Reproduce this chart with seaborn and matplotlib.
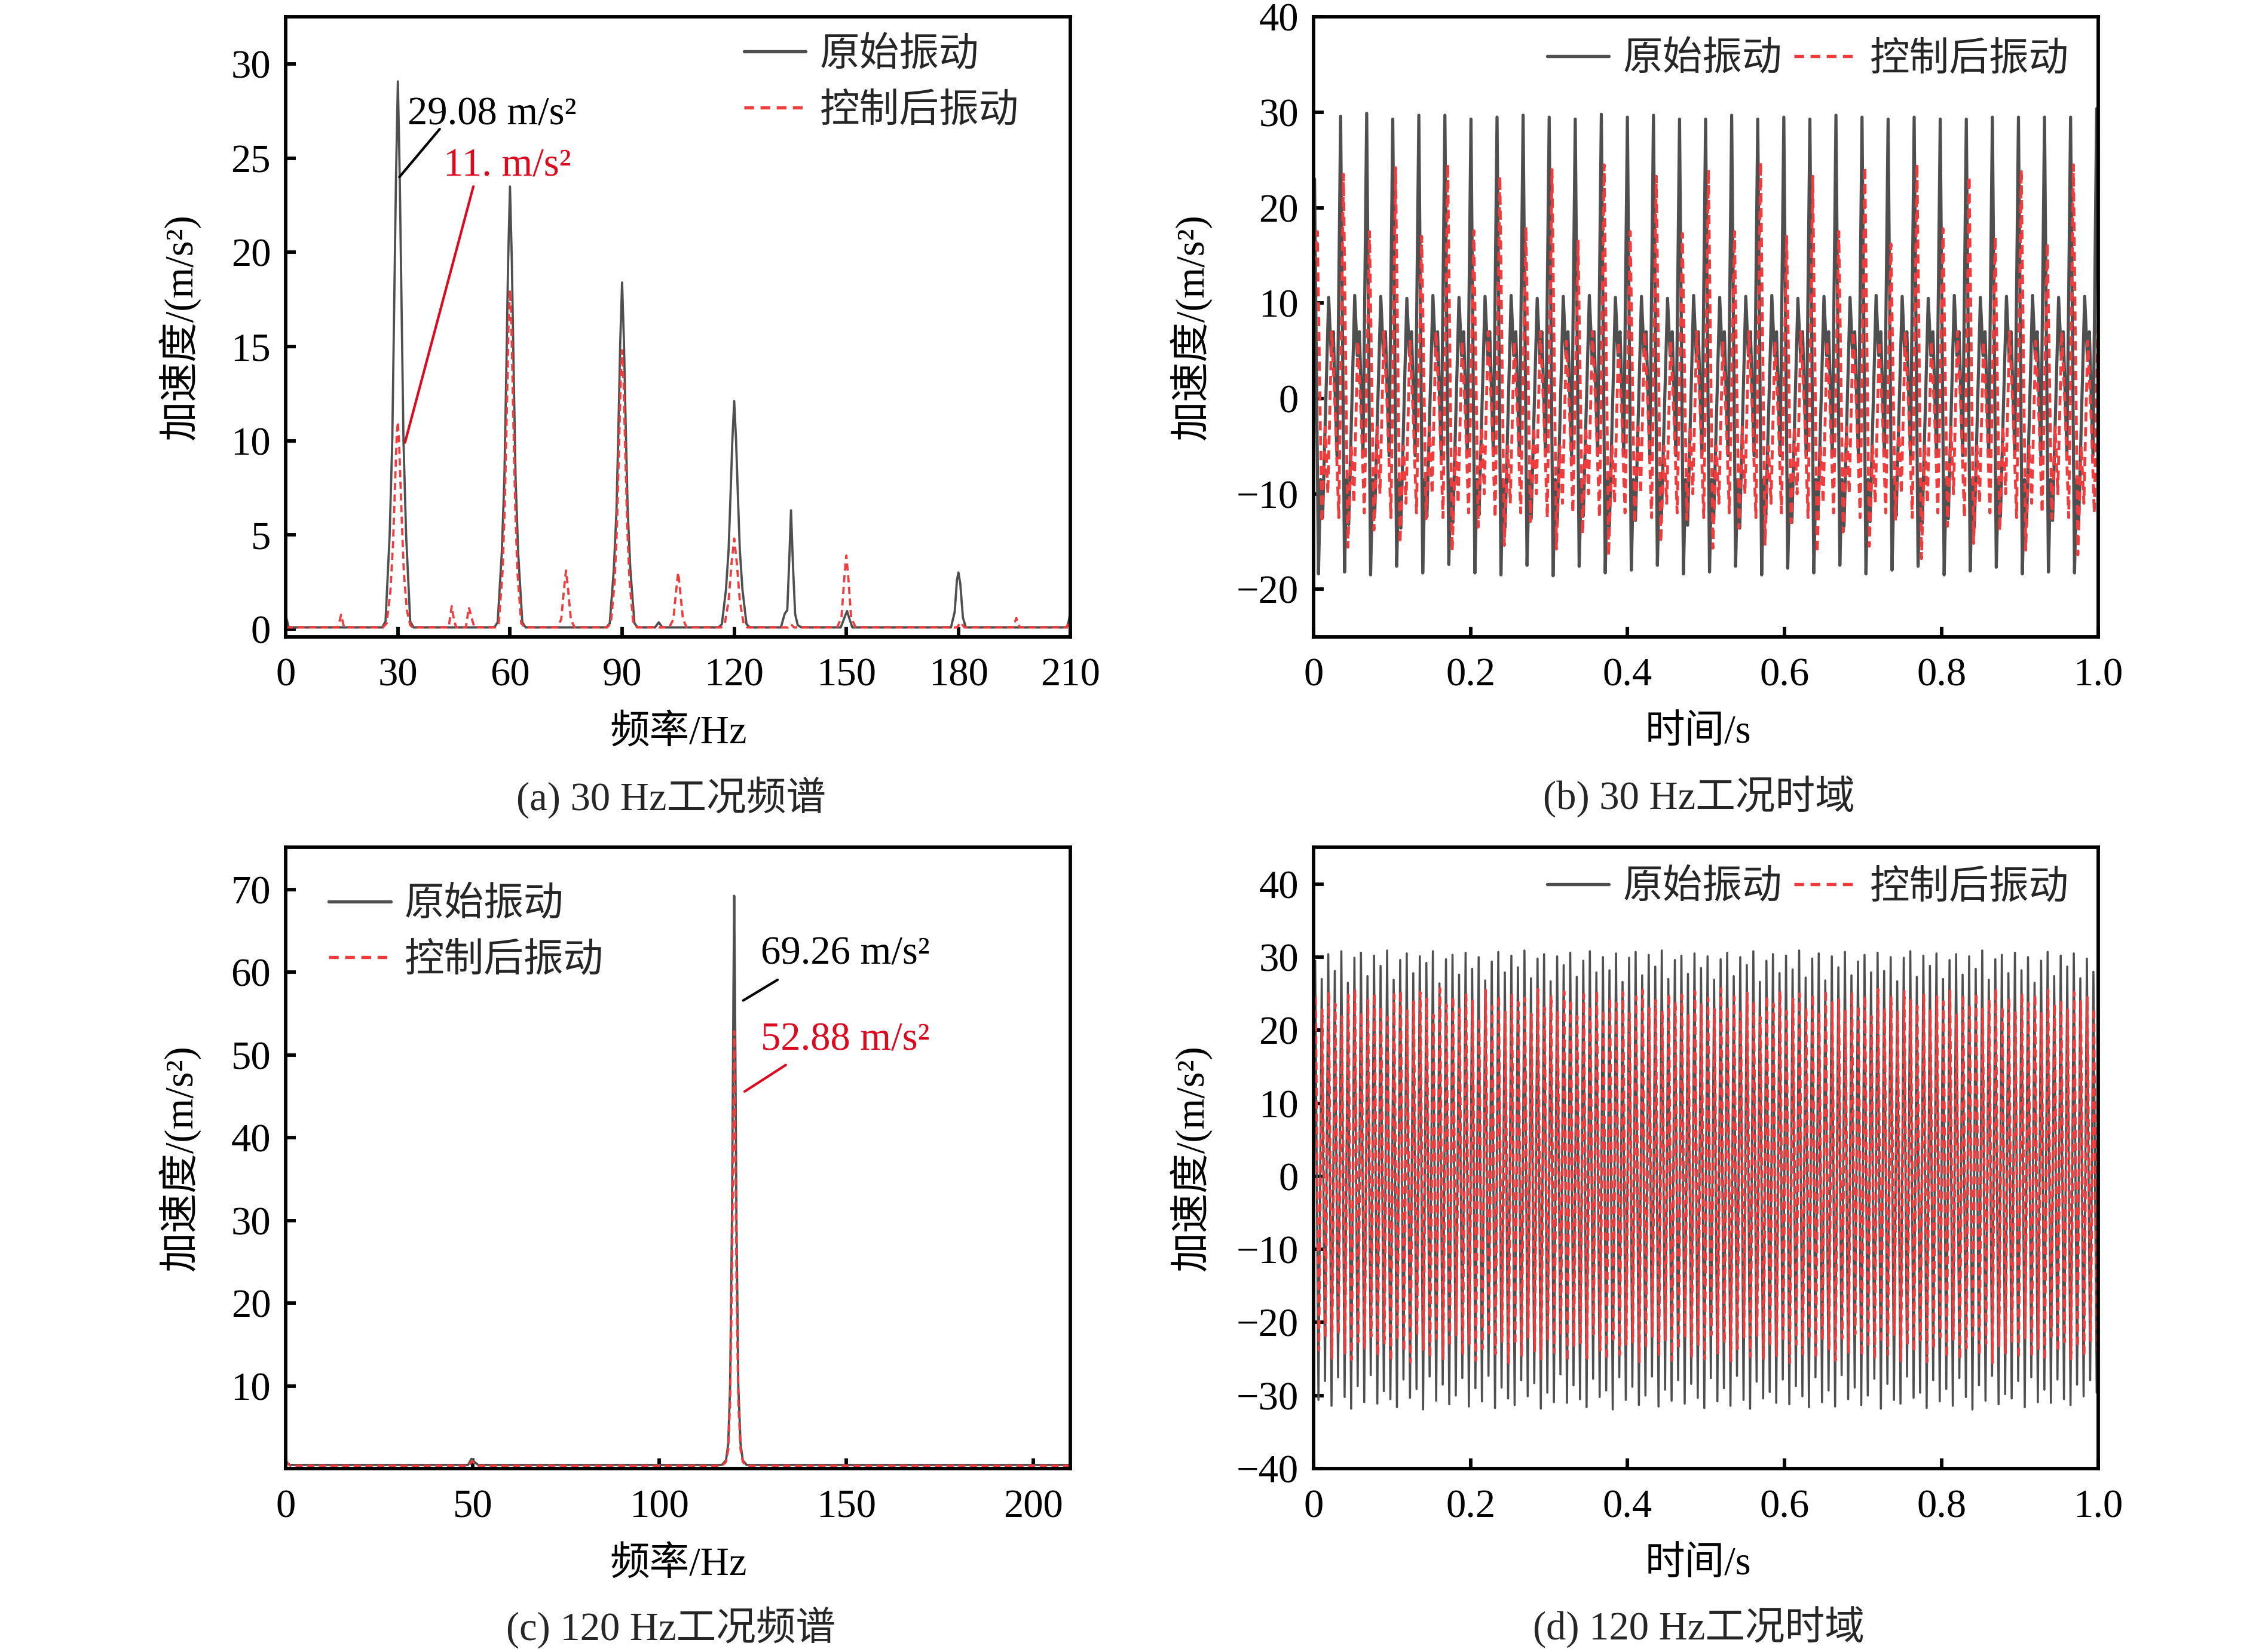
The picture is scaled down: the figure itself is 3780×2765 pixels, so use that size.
import matplotlib
matplotlib.use('Agg')
import matplotlib.pyplot as plt
import seaborn as sns
from matplotlib.lines import Line2D

sns.set_theme(style='white')
plt.rcParams['font.family'] = ['Liberation Serif', 'Noto Sans CJK SC', 'DejaVu Sans']
plt.rcParams['axes.unicode_minus'] = True

BLACK = '#4f4f4f'
RED = '#f03c3c'
ANN_RED = '#dc0a1e'
FS = 16

# ---------------- (a) 30 Hz spectrum ----------------
a_black_f = [0, 0.8, 25.8, 26.7, 27.8, 28.5, 29.0, 29.5, 30.0, 30.5, 31.0, 31.5, 32.2, 33.3, 34.2,
             55.8, 56.7, 57.8, 58.5, 59.0, 59.5, 60.0, 60.5, 61.0, 61.5, 62.2, 63.3, 64.2,
             85.8, 86.7, 87.8, 88.5, 89.0, 89.5, 90.0, 90.5, 91.0, 91.5, 92.2, 93.3, 94.2,
             98.8, 99.8, 100.8,
             115.8, 116.7, 117.8, 118.5, 119.0, 119.5, 120.0, 120.5, 121.0, 121.5, 122.2, 123.3, 124.2,
             132.5, 133.5, 134.2, 134.7, 135.2, 135.7, 136.3, 137.0, 138.0,
             148.5, 149.5, 150.2, 150.9, 151.6,
             178.0, 179.0, 179.6, 180.0, 180.5, 181.2, 182.0,
             209.0, 209.5, 210.0]
a_black_v = [0.7, 0.08, 0.08, 0.4, 5.0, 10.0, 17.0, 24.0, 29.08, 24.0, 17.0, 10.0, 5.0, 0.4, 0.08,
             0.08, 0.35, 4.0, 8.0, 13.5, 19.5, 23.5, 19.5, 13.5, 8.0, 4.0, 0.35, 0.08,
             0.08, 0.3, 3.2, 6.3, 10.5, 15.2, 18.4, 15.2, 10.5, 6.3, 3.2, 0.3, 0.08,
             0.08, 0.35, 0.08,
             0.08, 0.25, 2.1, 4.2, 7.0, 10.0, 12.1, 10.0, 7.0, 4.2, 2.1, 0.25, 0.08,
             0.08, 0.8, 1.0, 3.5, 6.3, 3.5, 0.8, 0.2, 0.08,
             0.08, 0.6, 0.95, 0.5, 0.08,
             0.08, 0.9, 2.6, 3.0, 2.4, 0.6, 0.08,
             0.08, 0.4, 1.0]
a_red_f = [0, 14.0, 14.8, 15.6,
           26.0, 27.0, 28.0, 28.7, 29.3, 29.7, 30.0, 30.4, 31.0, 31.6, 32.4, 33.3, 34.0,
           43.6, 44.4, 45.0, 45.6, 48.2, 49.0, 49.7, 50.5,
           56.0, 57.0, 58.0, 58.6, 59.2, 59.6, 60.0, 60.4, 60.8, 61.4, 62.0, 63.0, 64.0,
           72.6, 73.7, 74.5, 75.0, 75.5, 76.3, 77.3,
           86.0, 87.0, 88.0, 88.6, 89.2, 89.6, 90.0, 90.4, 90.8, 91.4, 92.0, 93.0, 94.0,
           102.6, 103.7, 104.5, 105.0, 105.5, 106.3, 107.3,
           116.5, 117.5, 118.5, 119.3, 120.0, 120.7, 121.5, 122.5, 123.5,
           134.4, 135.2, 136.0,
           147.5, 148.7, 149.5, 150.0, 150.5, 151.3, 152.5,
           179.6, 180.6, 181.6,
           194.6, 195.5, 196.4,
           209.0, 209.6, 210.0]
a_red_v = [0.08, 0.08, 0.75, 0.08,
           0.08, 0.3, 2.0, 4.5, 8.0, 10.3, 11.0, 9.5, 6.0, 3.0, 1.0, 0.2, 0.08,
           0.08, 1.2, 0.5, 0.08, 0.08, 1.15, 0.6, 0.08,
           0.08, 0.3, 3.0, 6.5, 12.0, 16.0, 18.0, 16.0, 12.0, 6.5, 3.0, 0.3, 0.08,
           0.08, 0.5, 2.2, 3.1, 2.2, 0.5, 0.08,
           0.08, 0.3, 2.5, 5.3, 9.8, 13.0, 14.8, 13.0, 9.8, 5.3, 2.5, 0.3, 0.08,
           0.08, 0.5, 2.1, 3.0, 2.1, 0.5, 0.08,
           0.08, 0.3, 1.5, 3.5, 4.8, 3.5, 1.5, 0.3, 0.08,
           0.08, 0.25, 0.08,
           0.08, 0.6, 2.8, 3.9, 2.8, 0.6, 0.08,
           0.08, 0.35, 0.08,
           0.08, 0.58, 0.08,
           0.08, 0.4, 0.85]

# ---------------- (c) 120 Hz spectrum ----------------
c_black_f = [0, 1.0, 48.8, 49.7, 50.5, 51.5, 116.7, 117.8, 118.4, 118.9, 119.4, 119.8, 120.0,
             120.2, 120.6, 121.1, 121.7, 122.3, 123.3, 210]
c_black_v = [0.9, 0.45, 0.45, 1.2, 0.8, 0.45, 0.45, 1.0, 3.0, 10.0, 30.0, 58.0, 69.26,
             58.0, 30.0, 10.0, 3.0, 1.0, 0.45, 0.45]
c_red_f = [0, 1.2, 49.0, 49.8, 50.6, 51.6, 116.7, 117.8, 118.4, 118.9, 119.4, 119.8, 120.0,
           120.2, 120.6, 121.1, 121.7, 122.3, 123.3, 210]
c_red_v = [0.9, 0.35, 0.35, 0.9, 0.6, 0.35, 0.35, 0.8, 2.3, 8.0, 23.0, 44.0, 52.88,
           44.0, 23.0, 8.0, 2.3, 0.8, 0.35, 0.35]

# ---------------- (b) 30 Hz time domain ----------------
b_T = 0.03322          # period (s)
b_t0 = 0.0012          # time of first (partial) black main peak
b_black_phase = [0.0, 0.15, 0.23, 0.31, 0.54, 0.64, 0.72, 0.86]
b_black_mid = [-8.5, 4.5, 7.0, -6.0]
b_black_peak = [23.0, 29.6, 29.9, 29.3, 29.7, 29.7, 29.3, 29.5, 29.7, 29.5, 29.3, 29.8, 29.5, 29.7,
                29.3, 29.3, 29.7, 29.3, 29.5, 29.3, 29.7, 29.5, 29.3, 29.5, 29.3, 29.3, 29.5, 29.5,
                29.5, 29.5, 30.4]
b_black_trough = [-18.4, -18.2, -18.5, -17.6, -18.3, -17.4, -18.3, -18.5, -17.5, -18.6, -17.6, -18.3,
                  -18.0, -17.5, -18.4, -18.2, -17.6, -18.5, -17.8, -18.3, -17.5, -18.4, -18.0, -17.6,
                  -18.5, -18.1, -17.7, -18.4, -18.2, -18.3, -18.0]
b_black_low2 = [-12.5, -13.2, -12.0, -13.6, -12.4, -13.0, -12.2, -13.5, -12.6, -13.1, -12.3, -13.4,
                -12.8, -12.1, -13.3, -12.7, -13.6, -12.2, -13.0, -12.5, -13.4, -12.9, -12.3, -13.1,
                -12.6, -13.5, -12.4, -13.2, -12.8, -13.0, -12.5]
b_black_second = [10.6, 10.8, 10.7, 10.5, 10.8, 10.6, 10.7, 10.8, 10.5, 10.7, 10.8, 10.6, 10.7, 10.5,
                  10.8, 10.6, 10.7, 10.8, 10.5, 10.7, 10.6, 10.8, 10.7, 10.5, 10.8, 10.6, 10.7, 10.8,
                  10.6, 10.7, 10.6]

b_red_start = 14.0
b_red_t0 = 0.0048
b_red_phase = [0.0, 0.17, 0.30, 0.40, 0.55, 0.68, 0.82, 1.00, 1.17, 1.30, 1.40, 1.55, 1.68, 1.80]
b_red_mid_short = [-3.0, -10.0, 7.0, -1.0, -12.5]
b_red_mid_tall = [-5.0, -11.0, 6.0, -2.0, -12.0]
b_red_short = [17.5, 17.5, 17.0, 17.6, 18.0, 16.5, 17.5, 17.3, 17.5, 17.0, 17.5, 16.2, 17.8, 17.0, 16.3, 17.0]
b_red_short_trough = [-13.0, -13.8, -12.6, -13.5, -12.9, -14.2, -13.1, -12.7, -13.6, -13.0, -14.0,
                      -12.8, -13.4, -13.9, -12.6, -13.2]
b_red_tall = [23.5, 24.2, 24.6, 23.3, 24.0, 24.5, 23.3, 24.0, 24.8, 23.3, 24.3, 24.6, 23.3, 24.0, 24.5, 24.0]
b_red_tall_trough = [-15.6, -15.2, -16.0, -15.4, -15.8, -16.5, -15.1, -15.7, -15.3, -16.2, -15.5,
                     -16.8, -15.2, -15.9, -16.4, -15.5]

# ---------------- (d) 120 Hz time domain ----------------
d_freq = 120.0
d_t0 = 0.002
d_black_peak = [
    29.5, 27.0, 30.4, 28.1, 30.8, 26.5, 29.9, 30.6, 27.4, 30.2, 28.8, 30.9,
    26.9, 29.6, 30.5, 27.8, 30.1, 29.2, 30.8, 26.4, 29.7, 30.3, 27.6, 30.6,
    28.4, 30.0, 26.8, 29.4, 30.7, 27.9, 30.2, 28.6, 30.9, 27.1, 29.8, 30.4,
    26.7, 30.1, 28.9, 30.6, 27.3, 29.5, 30.8, 27.9, 30.0, 28.2, 30.5, 26.6,
    29.9, 30.7, 27.5, 30.3, 28.7, 30.9, 27.0, 29.6, 30.2, 27.7, 30.5, 28.5,
    30.1, 26.9, 29.7, 30.6, 27.4, 30.0, 28.9, 30.8, 26.6, 29.5, 30.4, 27.8,
    30.2, 28.3, 30.9, 27.2, 29.8, 30.5, 26.8, 30.1, 28.6, 30.7, 27.5, 29.4,
    30.3, 27.9, 30.6, 28.1, 30.0, 26.7, 29.9, 30.8, 27.3, 30.2, 28.8, 30.5,
    27.0, 29.6, 30.4, 27.6, 30.1, 28.4, 30.9, 26.9, 29.7, 30.3, 27.8, 30.6,
    28.2, 30.0, 26.5, 29.5, 30.7, 27.4, 30.2, 28.7, 30.5, 27.1, 29.8, 28.0]
d_black_trough = [
    -30.6, -28.0, -31.4, -27.5, -30.2, -31.8, -28.7, -30.9, -27.2, -31.1, -29.4, -30.5,
    -31.6, -27.8, -30.3, -29.1, -31.9, -27.4, -30.7, -28.5, -31.2, -30.0, -27.6, -31.5,
    -29.0, -30.8, -27.3, -31.7, -28.9, -30.4, -31.3, -27.9, -30.1, -28.3, -31.8, -29.6,
    -30.9, -27.1, -31.0, -28.6, -30.5, -31.6, -27.7, -30.2, -29.3, -31.9, -27.5, -30.6,
    -28.8, -31.3, -30.0, -27.4, -31.5, -29.2, -30.7, -27.9, -31.1, -28.4, -30.3, -31.7,
    -27.6, -30.8, -29.0, -31.4, -27.3, -30.6, -31.8, -28.1, -30.4, -29.5, -31.0, -27.8,
    -31.2, -28.7, -30.1, -31.6, -27.5, -30.9, -29.3, -31.5, -27.2, -30.5, -28.9, -31.3,
    -30.0, -27.7, -31.8, -28.4, -30.6, -31.1, -27.4, -30.3, -29.6, -31.7, -27.9, -30.8,
    -29.1, -31.4, -27.6, -30.2, -31.9, -28.6, -30.7, -27.3, -31.2, -29.8, -30.4, -28.0,
    -31.6, -27.5, -30.9, -29.2, -31.0, -27.8, -30.5, -31.3, -28.5, -30.1, -27.9, -29.6]
d_red_peak = [
    24.5, 22.8, 25.3, 23.6, 21.9, 24.8, 25.6, 22.4, 24.1, 25.0, 23.2, 21.8,
    24.9, 25.4, 22.7, 23.9, 25.2, 24.3, 22.1, 25.7, 23.5, 24.6, 22.9, 25.1,
    24.0, 21.7, 25.5, 23.3, 24.7, 22.5, 25.0, 23.8, 24.4, 22.2, 25.6, 23.1,
    24.8, 22.6, 25.3, 24.2, 21.9, 24.9, 23.4, 25.4, 22.8, 24.5, 23.7, 25.2,
    22.3, 24.6, 25.5, 23.0, 24.1, 22.7, 25.0, 23.9, 24.8, 22.0, 25.3, 23.5,
    24.4, 22.9, 25.7, 23.2, 24.6, 22.4, 25.1, 24.0, 21.8, 24.7, 23.6, 25.4,
    22.6, 24.3, 25.0, 23.1, 24.9, 22.2, 25.5, 23.8, 24.2, 22.8, 25.2, 23.4,
    24.7, 21.9, 25.6, 23.0, 24.5, 22.5, 25.3, 24.1, 23.3, 25.0, 22.7, 24.6,
    23.9, 25.4, 22.1, 24.8, 23.5, 25.1, 22.9, 24.2, 25.7, 23.2, 24.4, 22.6,
    25.0, 23.7, 24.9, 22.3, 25.5, 23.6, 24.1, 22.8, 25.2, 23.9, 24.5, 23.0]
d_red_trough = [
    -23.8, -22.1, -24.9, -21.6, -24.2, -25.1, -22.7, -23.5, -21.9, -24.6, -23.0, -25.3,
    -22.4, -24.0, -25.4, -21.8, -23.7, -24.8, -22.2, -25.0, -23.3, -21.7, -24.5, -22.9,
    -25.2, -23.6, -21.9, -24.3, -22.6, -25.5, -23.1, -24.7, -22.0, -23.9, -25.0, -22.5,
    -24.1, -21.8, -25.3, -23.4, -22.8, -24.9, -21.6, -23.8, -25.1, -22.3, -24.4, -23.0,
    -22.7, -25.4, -23.5, -21.9, -24.6, -22.4, -25.2, -23.7, -22.1, -24.8, -23.2, -25.0,
    -21.7, -24.2, -22.9, -25.3, -23.6, -22.0, -24.7, -21.8, -25.1, -23.3, -24.5, -22.6,
    -25.5, -23.0, -24.3, -21.9, -24.9, -22.5, -23.8, -25.2, -22.2, -24.1, -21.6, -24.6,
    -23.4, -25.0, -22.8, -24.4, -21.7, -25.3, -23.1, -24.0, -22.4, -25.4, -23.7, -22.0,
    -24.8, -22.3, -25.1, -23.5, -21.8, -24.5, -22.9, -25.5, -23.2, -24.2, -22.6, -24.9,
    -22.1, -24.7, -23.6, -25.2, -21.9, -24.0, -22.7, -25.0, -23.4, -24.6, -22.5, -23.8]

legend_labels = ['原始振动', '控制后振动']
caption_texts = ['(a) 30 Hz工况频谱', '(b) 30 Hz工况时域', '(c) 120 Hz工况频谱', '(d) 120 Hz工况时域']


# ---------------- assemble time series ----------------
def build_b_black():
    t, y = [], []
    for i in range(len(b_black_peak)):
        tp = b_t0 + i * b_T
        vals = [b_black_peak[i], b_black_trough[i], b_black_mid[0], b_black_low2[i],
                b_black_second[i], b_black_mid[1], b_black_mid[2], b_black_mid[3]]
        for ph, v in zip(b_black_phase, vals):
            t.append(tp + ph * b_T)
            y.append(v)
    return t, y


def build_b_red():
    t, y = [0.0], [b_red_start]
    for k in range(len(b_red_short)):
        ts = b_red_t0 + 2 * k * b_T
        vals = ([b_red_short[k], b_red_short_trough[k]] + b_red_mid_short +
                [b_red_tall[k], b_red_tall_trough[k]] + b_red_mid_tall)
        for ph, v in zip(b_red_phase, vals):
            t.append(ts + ph * b_T)
            y.append(v)
    return t, y


def build_d(peaks, troughs, shift):
    t, y = [], []
    for i, (p, q) in enumerate(zip(peaks, troughs)):
        t.append(d_t0 + shift + i / d_freq)
        y.append(p)
        t.append(d_t0 + shift + (i + 0.5) / d_freq)
        y.append(q)
    return t, y


RED_DASH = (3.2, 2.0)


def draw_pair(ax, xb, yb, xr, yr, lwb, lwr):
    sns.lineplot(x=xb, y=yb, ax=ax, color=BLACK, linewidth=lwb, estimator=None, sort=False)
    sns.lineplot(x=xr, y=yr, ax=ax, color=RED, linewidth=lwr, estimator=None, sort=False)
    ax.lines[-1].set_dashes(RED_DASH)


def style_axes(ax):
    for sp in ax.spines.values():
        sp.set_visible(True)
        sp.set_color('black')
        sp.set_linewidth(1.4)
    ax.tick_params(axis='both', which='both', direction='in', length=4, width=1.4,
                   labelsize=FS, colors='black', top=False, right=False,
                   bottom=True, left=True)
    ax.tick_params(axis='x', pad=8.2)
    ax.tick_params(axis='y', pad=6)
    ax.grid(False)


def add_legend(ax, anchor, ncol):
    handles = [Line2D([], [], color=BLACK, lw=1.3),
               Line2D([], [], color=RED, lw=1.3, dashes=(3.0, 2.0))]
    ax.legend(handles, legend_labels, loc='upper left', bbox_to_anchor=anchor,
              frameon=False, borderpad=0, borderaxespad=0, handlelength=1.55,
              handletextpad=0.35, labelspacing=0.47, columnspacing=0.3,
              ncol=ncol, fontsize=FS)


fig = plt.figure(figsize=(12.6, 2765 / 300), dpi=300)
L1, L2, W = 0.1265, 0.5815, 0.3474
axA = fig.add_axes([L1, 0.6145, W, 0.3752])
axB = fig.add_axes([L2, 0.6145, W, 0.3752])
axC = fig.add_axes([L1, 0.1110, W, 0.3760])
axD = fig.add_axes([L2, 0.1110, W, 0.3760])

# (a)
draw_pair(axA, a_black_f, a_black_v, a_red_f, a_red_v, 0.9, 0.9)
axA.set_xlim(0, 210)
axA.set_ylim(-0.42, 32.5)
axA.set_xticks([0, 30, 60, 90, 120, 150, 180, 210])
axA.set_yticks([0, 5, 10, 15, 20, 25, 30])
axA.text(32.6, 26.8, '29.08 m/s²', fontsize=FS, color='black', ha='left', va='baseline')
axA.plot([30.4, 41.2], [24.0, 26.55], color='black', lw=1.0)
axA.text(42.2, 24.1, '11. m/s²', fontsize=FS, color=ANN_RED, ha='left', va='baseline')
axA.plot([31.9, 50.2], [9.9, 23.5], color=ANN_RED, lw=1.0)
add_legend(axA, (0.584, 0.968), 1)

# (b)
tb, yb = build_b_black()
tr, yr = build_b_red()
draw_pair(axB, tb, yb, tr, yr, 1.25, 1.15)
axB.set_xlim(0, 1.0)
axB.set_ylim(-25, 40)
axB.set_xticks([0, 0.2, 0.4, 0.6, 0.8, 1.0])
axB.set_xticklabels(['0', '0.2', '0.4', '0.6', '0.8', '1.0'])
axB.set_yticks([-20, -10, 0, 10, 20, 30, 40])
add_legend(axB, (0.2976, 0.961), 2)

# (c)
draw_pair(axC, c_black_f, c_black_v, c_red_f, c_red_v, 0.9, 0.9)
axC.set_xlim(0, 210)
axC.set_ylim(0, 75.1)
axC.set_xticks([0, 50, 100, 150, 200])
axC.set_yticks([10, 20, 30, 40, 50, 60, 70])
axC.text(127.1, 61.0, '69.26 m/s²', fontsize=FS, color='black', ha='left', va='baseline')
axC.plot([122.4, 131.6], [56.6, 59.1], color='black', lw=1.0)
axC.text(127.1, 50.6, '52.88 m/s²', fontsize=FS, color=ANN_RED, ha='left', va='baseline')
axC.plot([122.8, 133.8], [45.6, 48.8], color=ANN_RED, lw=1.0)
add_legend(axC, (0.055, 0.937), 1)

# (d)
tdb, ydb = build_d(d_black_peak, d_black_trough, 0.0)
tdr, ydr = build_d(d_red_peak, d_red_trough, 0.0006)
draw_pair(axD, tdb, ydb, tdr, ydr, 0.85, 1.0)
axD.set_xlim(0, 1.0)
axD.set_ylim(-40, 45)
axD.set_xticks([0, 0.2, 0.4, 0.6, 0.8, 1.0])
axD.set_xticklabels(['0', '0.2', '0.4', '0.6', '0.8', '1.0'])
axD.set_yticks([-40, -30, -20, -10, 0, 10, 20, 30, 40])
add_legend(axD, (0.2976, 0.965), 2)

for ax, xl, xlx, yx in [(axA, '频率/Hz', 0.5, -0.108), (axB, '时间/s', 0.49, -0.129),
                        (axC, '频率/Hz', 0.5, -0.108), (axD, '时间/s', 0.49, -0.129)]:
    style_axes(ax)
    ax.set_xlabel(xl, fontsize=FS, color='black')
    ax.set_ylabel('加速度/(m/s²)', fontsize=FS, color='black')
    ax.xaxis.set_label_coords(xlx, -0.125)
    ax.yaxis.set_label_coords(yx, 0.5)

fig.text(0.297, 0.5175, caption_texts[0], fontsize=FS, ha='center', va='center')
fig.text(0.752, 0.5175, caption_texts[1], fontsize=FS, ha='center', va='center')
fig.text(0.297, 0.0150, caption_texts[2], fontsize=FS, ha='center', va='center')
fig.text(0.752, 0.0150, caption_texts[3], fontsize=FS, ha='center', va='center')

fig.savefig('out.png', dpi=300, facecolor='white')
